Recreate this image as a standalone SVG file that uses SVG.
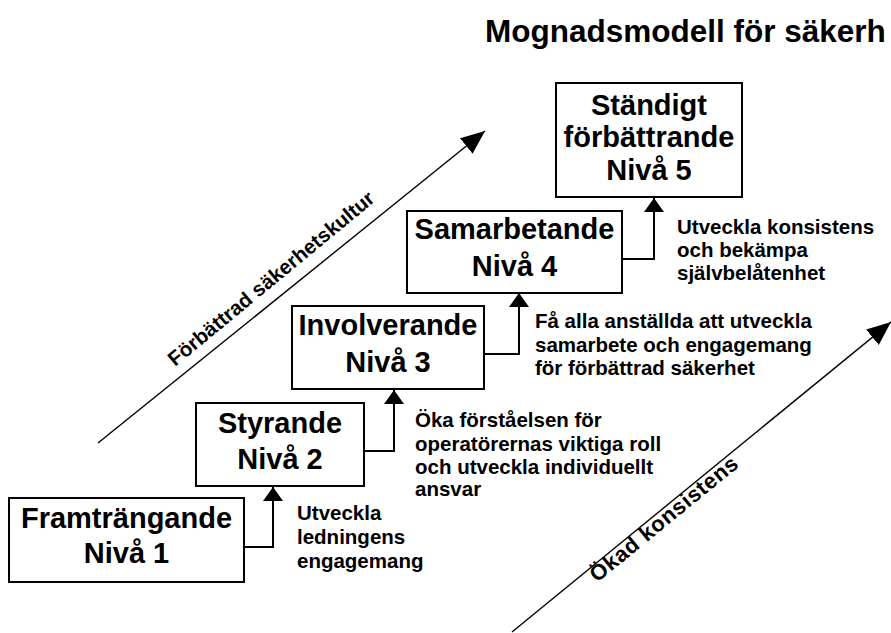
<svg xmlns="http://www.w3.org/2000/svg" width="891" height="633" viewBox="0 0 891 633">
<defs>
<style>
.box{fill:#fff;stroke:#000;stroke-width:2}
.bt{font-family:"Liberation Sans",Arial,sans-serif;font-weight:bold;font-size:29px;text-anchor:middle;fill:#000}
.lt{font-family:"Liberation Sans",Arial,sans-serif;font-weight:bold;font-size:20.5px;fill:#000}
.title{font-family:"Liberation Sans",Arial,sans-serif;font-weight:bold;font-size:31.5px;fill:#000}
.dt{font-family:"Liberation Sans",Arial,sans-serif;font-weight:bold;font-size:20.5px;fill:#000}
.conn{fill:none;stroke:#000;stroke-width:2}
.diag{fill:none;stroke:#000;stroke-width:1.4}
</style>
<marker id="ah" markerUnits="userSpaceOnUse" markerWidth="14" markerHeight="20" refX="14" refY="10" orient="auto" viewBox="0 0 14 20">
<path d="M0,0 L14,10 L0,20 Z" fill="#000"/>
</marker>
<marker id="dh" markerUnits="userSpaceOnUse" markerWidth="24" markerHeight="20" refX="24" refY="10" orient="auto" viewBox="0 0 24 20">
<path d="M0,0 L24,10 L0,20 Z" fill="#000"/>
</marker>
<clipPath id="clipAnsvar"><rect x="400" y="380" width="320" height="117"/></clipPath>
</defs>

<text class="title" x="485" y="42">Mognadsmodell för säkerh</text>

<g id="connectors">
<path class="conn" d="M244,547 H273 V487" marker-end="url(#ah)"/>
<path class="conn" d="M364,451 H394 V390" marker-end="url(#ah)"/>
<path class="conn" d="M484,354 H519 V293" marker-end="url(#ah)"/>
<path class="conn" d="M622,259 H654 V198" marker-end="url(#ah)"/>
<path class="diag" d="M98,443 L485,131" marker-end="url(#dh)"/>
<path class="diag" d="M512,632 L891,322" marker-end="url(#dh)"/>
</g>

<g id="level1">
<rect class="box" x="9" y="498" width="235" height="84"/>
<text class="bt" x="126.5" y="528">Framträngande</text>
<text class="bt" x="126.5" y="563">Nivå 1</text>
</g>
<g id="level2">
<rect class="box" x="196" y="403" width="168" height="83"/>
<text class="bt" x="280" y="433">Styrande</text>
<text class="bt" x="280" y="469">Nivå 2</text>
</g>
<g id="level3">
<rect class="box" x="292" y="306" width="192" height="83"/>
<text class="bt" x="388" y="335">Involverande</text>
<text class="bt" x="388" y="372">Nivå 3</text>
</g>
<g id="level4">
<rect class="box" x="407" y="211" width="215" height="82"/>
<text class="bt" x="514.5" y="239">Samarbetande</text>
<text class="bt" x="514.5" y="276">Nivå 4</text>
</g>
<g id="level5">
<rect class="box" x="556" y="83" width="186" height="114"/>
<text class="bt" x="649" y="115">Ständigt</text>
<text class="bt" x="649" y="147">förbättrande</text>
<text class="bt" x="649" y="180">Nivå 5</text>
</g>

<g id="label1">
<text class="lt" x="297" y="520">Utveckla</text>
<text class="lt" x="297" y="544">ledningens</text>
<text class="lt" x="297" y="568">engagemang</text>
</g>
<g id="label2" clip-path="url(#clipAnsvar)">
<text class="lt" x="415" y="427">Öka förståelsen för</text>
<text class="lt" x="415" y="451">operatörernas viktiga roll</text>
<text class="lt" x="415" y="474">och utveckla individuellt</text>
<text class="lt" x="415" y="496">ansvar</text>
</g>
<g id="label3">
<text class="lt" x="535" y="328">Få alla anställda att utveckla</text>
<text class="lt" x="535" y="352">samarbete och engagemang</text>
<text class="lt" x="535" y="375">för förbättrad säkerhet</text>
</g>
<g id="label4">
<text class="lt" x="677" y="234">Utveckla konsistens</text>
<text class="lt" x="677" y="257">och bekämpa</text>
<text class="lt" x="677" y="280">självbelåtenhet</text>
</g>

<g id="axis-labels">
<text class="dt" transform="translate(175,367) rotate(-39.6)">Förbättrad säkerhetskultur</text>
<text class="dt" style="font-size:22px;letter-spacing:0.6px" transform="translate(597,583) rotate(-39.3)">Ökad konsistens</text>
</g>
</svg>
